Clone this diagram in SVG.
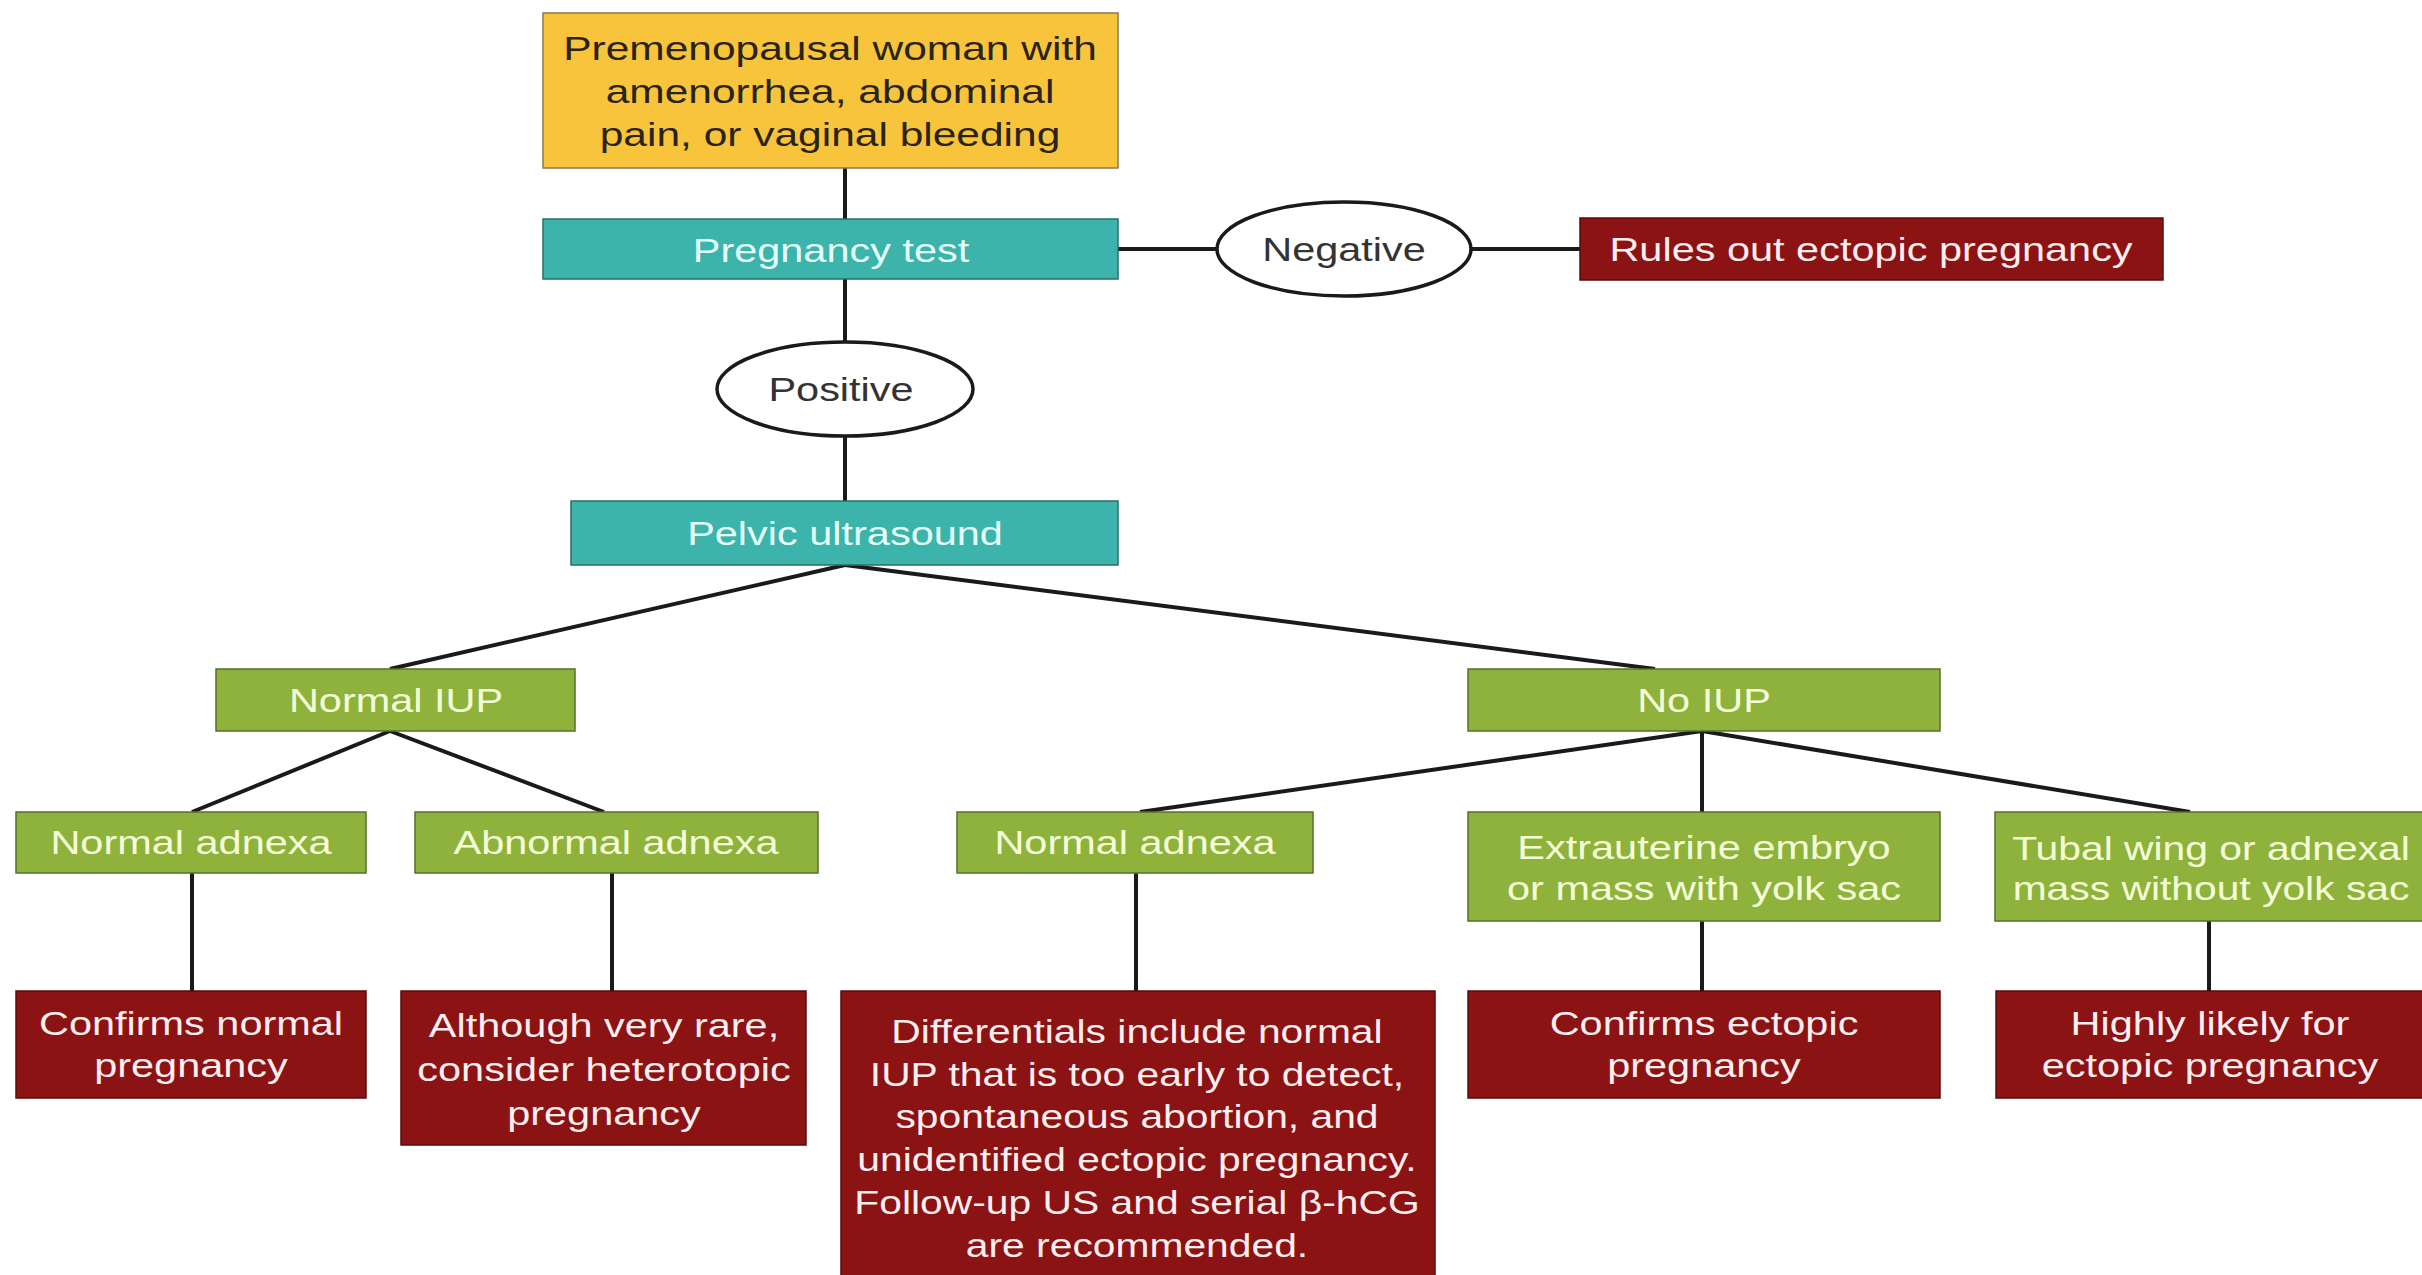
<svg xmlns="http://www.w3.org/2000/svg" width="2422" height="1275" viewBox="0 0 2422 1275">
<style>
text{font-family:"Liberation Sans",Arial,sans-serif;font-size:34px;text-anchor:middle}
.yel{fill:#F8C43C;stroke:#8a7a50;stroke-width:1.5}
.teal{fill:#3CB3AB;stroke:#2a6e6a;stroke-width:1.5}
.grn{fill:#8FB23C;stroke:#55702a;stroke-width:1.5}
.red{fill:#8B1313;stroke:#5a0c0c;stroke-width:1.5}
.ell{fill:#ffffff;stroke:#1a1a1a;stroke-width:3.5}
.ty{fill:#2a2418}
.tt{fill:#E4FFF8}
.tg{fill:#F4FFD8}
.tr{fill:#FFEEF0}
.te{fill:#333333}
.conn line{stroke:#1a1a1a;stroke-width:4}
</style>
<rect width="2422" height="1275" fill="#ffffff"/>
<g class="conn" id="connectors">
<line x1="845" y1="168" x2="845" y2="219"/>
<line x1="845" y1="279" x2="845" y2="342"/>
<line x1="845" y1="436" x2="845" y2="501"/>
<line x1="1118" y1="249" x2="1217" y2="249"/>
<line x1="1471" y1="249" x2="1580" y2="249"/>
<line x1="845" y1="565" x2="390" y2="669"/>
<line x1="845" y1="565" x2="1655" y2="669"/>
<line x1="390" y1="731" x2="192" y2="812"/>
<line x1="390" y1="731" x2="604" y2="812"/>
<line x1="1702" y1="731" x2="1140" y2="812"/>
<line x1="1702" y1="731" x2="1702" y2="812"/>
<line x1="1702" y1="731" x2="2190" y2="812"/>
<line x1="192" y1="873" x2="192" y2="991"/>
<line x1="612" y1="873" x2="612" y2="991"/>
<line x1="1136" y1="873" x2="1136" y2="991"/>
<line x1="1702" y1="921" x2="1702" y2="991"/>
<line x1="2209" y1="921" x2="2209" y2="991"/>
</g>
<g id="start">
<rect class="yel" x="543" y="13" width="575" height="155"/>
<text class="ty" transform="translate(830 0) scale(1.25 1)"><tspan x="0" y="60">Premenopausal woman with</tspan><tspan x="0" y="103">amenorrhea, abdominal</tspan><tspan x="0" y="146">pain, or vaginal bleeding</tspan></text>
</g>
<g id="pregnancy-test">
<rect class="teal" x="543" y="219" width="575" height="60"/>
<text class="tt" transform="translate(831 0) scale(1.22 1)"><tspan x="0" y="262">Pregnancy test</tspan></text>
</g>
<g id="negative">
<ellipse class="ell" cx="1344" cy="249" rx="127" ry="47"/>
<text class="te" transform="translate(1344 0) scale(1.22 1)"><tspan x="0" y="261">Negative</tspan></text>
</g>
<g id="rules-out">
<rect class="red" x="1580" y="218" width="583" height="62"/>
<text class="tr" transform="translate(1871 0) scale(1.22 1)"><tspan x="0" y="261">Rules out ectopic pregnancy</tspan></text>
</g>
<g id="positive">
<ellipse class="ell" cx="845" cy="389" rx="128" ry="47"/>
<text class="te" transform="translate(841 0) scale(1.22 1)"><tspan x="0" y="401">Positive</tspan></text>
</g>
<g id="pelvic-us">
<rect class="teal" x="571" y="501" width="547" height="64"/>
<text class="tt" transform="translate(845 0) scale(1.22 1)"><tspan x="0" y="545">Pelvic ultrasound</tspan></text>
</g>
<g id="normal-iup">
<rect class="grn" x="216" y="669" width="359" height="62"/>
<text class="tg" transform="translate(396 0) scale(1.22 1)"><tspan x="0" y="712">Normal IUP</tspan></text>
</g>
<g id="no-iup">
<rect class="grn" x="1468" y="669" width="472" height="62"/>
<text class="tg" transform="translate(1704 0) scale(1.22 1)"><tspan x="0" y="712">No IUP</tspan></text>
</g>
<g id="normal-adnexa-1">
<rect class="grn" x="16" y="812" width="350" height="61"/>
<text class="tg" transform="translate(191 0) scale(1.22 1)"><tspan x="0" y="854">Normal adnexa</tspan></text>
</g>
<g id="abnormal-adnexa">
<rect class="grn" x="415" y="812" width="403" height="61"/>
<text class="tg" transform="translate(616 0) scale(1.22 1)"><tspan x="0" y="854">Abnormal adnexa</tspan></text>
</g>
<g id="normal-adnexa-2">
<rect class="grn" x="957" y="812" width="356" height="61"/>
<text class="tg" transform="translate(1135 0) scale(1.22 1)"><tspan x="0" y="854">Normal adnexa</tspan></text>
</g>
<g id="extrauterine">
<rect class="grn" x="1468" y="812" width="472" height="109"/>
<text class="tg" transform="translate(1704 0) scale(1.22 1)"><tspan x="0" y="859">Extrauterine embryo</tspan><tspan x="0" y="900">or mass with yolk sac</tspan></text>
</g>
<g id="tubal-wing">
<rect class="grn" x="1995" y="812" width="432" height="109"/>
<text class="tg" transform="translate(2211 0) scale(1.2 1)"><tspan x="0" y="860">Tubal wing or adnexal</tspan><tspan x="0" y="900">mass without yolk sac</tspan></text>
</g>
<g id="confirms-normal">
<rect class="red" x="16" y="991" width="350" height="107"/>
<text class="tr" transform="translate(191 0) scale(1.22 1)"><tspan x="0" y="1035">Confirms normal</tspan><tspan x="0" y="1077">pregnancy</tspan></text>
</g>
<g id="heterotopic">
<rect class="red" x="401" y="991" width="405" height="154"/>
<text class="tr" transform="translate(604 0) scale(1.22 1)"><tspan x="0" y="1037">Although very rare,</tspan><tspan x="0" y="1081">consider heterotopic</tspan><tspan x="0" y="1125">pregnancy</tspan></text>
</g>
<g id="differentials">
<rect class="red" x="841" y="991" width="594" height="290"/>
<text class="tr" transform="translate(1137 0) scale(1.2 1)"><tspan x="0" y="1043">Differentials include normal</tspan><tspan x="0" y="1086">IUP that is too early to detect,</tspan><tspan x="0" y="1128">spontaneous abortion, and</tspan><tspan x="0" y="1171">unidentified ectopic pregnancy.</tspan><tspan x="0" y="1214">Follow-up US and serial β-hCG</tspan><tspan x="0" y="1257">are recommended.</tspan></text>
</g>
<g id="confirms-ectopic">
<rect class="red" x="1468" y="991" width="472" height="107"/>
<text class="tr" transform="translate(1704 0) scale(1.22 1)"><tspan x="0" y="1035">Confirms ectopic</tspan><tspan x="0" y="1077">pregnancy</tspan></text>
</g>
<g id="highly-likely">
<rect class="red" x="1996" y="991" width="432" height="107"/>
<text class="tr" transform="translate(2210 0) scale(1.22 1)"><tspan x="0" y="1035">Highly likely for</tspan><tspan x="0" y="1077">ectopic pregnancy</tspan></text>
</g>
</svg>
